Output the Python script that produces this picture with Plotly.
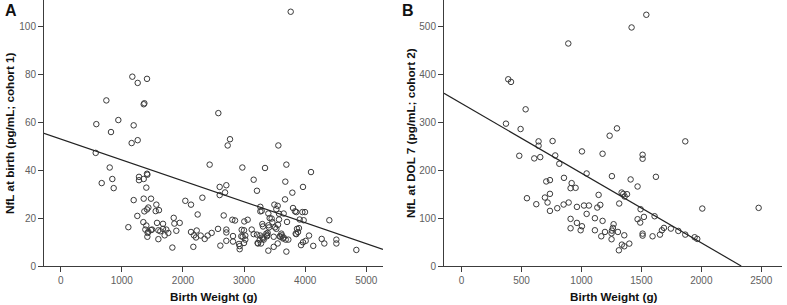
import plotly.graph_objects as go

# ---------------- Panel A data (cohort 1) ----------------
a_bw = [3763, 1172, 1412, 1260, 747, 1369, 1358, 583, 943, 1194, 823, 1161, 1260, 573, 802,
        845, 867, 671, 1281, 1281, 1358, 1412, 1418, 1401, 1194, 1358, 1478, 1107, 1254, 1352,
        1369, 1412, 1434, 1401, 1385, 1423, 1418, 1494, 1565, 1608, 1554, 1576, 1598, 1598, 1674,
        1674, 1728, 1701, 1761, 1849, 1860, 1947, 1892, 1827, 2039, 2132, 2241, 2132, 2170, 2225,
        2214, 2318, 2290, 2356, 2405, 2470, 2437, 2579, 2601, 2601, 2574, 2612, 2710, 2689, 2732,
        2770, 2667, 2710, 2710, 2710, 2808, 2852, 2819, 2917, 2928, 2972, 2961, 3004, 3059, 2999,
        2977, 3020, 2999, 3157, 3211, 3125, 3157, 3211, 3222, 3266, 3288, 3266, 3343, 3299, 3266,
        3299, 3321, 3277, 3364, 3386, 3397, 3408, 3419, 3397, 3463, 3485, 3485, 3496, 3506, 3528,
        3550, 3561, 3572, 3572, 3594, 3550, 3616, 3648, 3670, 3675, 3692, 3703, 3681, 3724, 3692,
        3648, 3790, 3801, 3834, 3855, 3845, 3866, 3910, 3954, 3975, 3997, 3964, 4095, 3932, 3964,
        4008, 4063, 4132, 4270, 4313, 4395, 4510, 4510, 4837, 3310, 3375, 3255, 3228, 3637, 3583,
        3610, 3855, 3883, 3528, 2955, 3020, 2819, 2928, 3402, 3451, 3380, 3555, 3898, 1434, 1478,
        1630, 2180, 3310]
a_nfl = [106.1, 79.0, 78.1, 76.4, 69.1, 67.9, 67.5, 59.2, 60.9, 58.7, 55.9, 51.3, 52.5, 47.2, 41.1,
         36.3, 32.5, 34.6, 37.2, 35.8, 36.3, 38.5, 38.1, 32.7, 27.5, 28.1, 28.1, 16.2, 20.9, 18.3,
         22.8, 23.6, 24.4, 16.9, 15.2, 13.8, 12.2, 15.2, 25.6, 23.3, 22.9, 18.0, 14.9, 11.2, 17.6,
         15.5, 15.2, 12.8, 13.8, 20.1, 17.7, 18.0, 14.7, 7.7, 27.2, 25.6, 21.5, 14.2, 8.0, 14.8,
         11.9, 28.5, 12.7, 11.3, 12.7, 13.8, 42.3, 63.8, 33.0, 29.6, 15.5, 8.5, 33.7, 30.7, 50.3,
         52.9, 21.1, 15.2, 14.0, 10.5, 19.3, 19.0, 10.2, 9.2, 7.0, 41.1, 15.1, 18.6, 19.3, 14.9,
         12.2, 12.7, 9.6, 36.0, 31.4, 15.2, 13.3, 13.1, 9.6, 24.7, 23.0, 22.8, 40.9, 17.5, 12.7,
         11.9, 11.0, 9.4, 13.5, 13.8, 6.4, 16.1, 20.0, 21.9, 18.3, 12.2, 8.0, 25.6, 16.1, 23.7,
         25.1, 50.3, 21.8, 19.4, 12.2, 9.4, 12.8, 21.9, 27.8, 35.2, 42.3, 18.4, 11.0, 11.0, 6.0,
         11.9, 30.6, 24.2, 22.8, 22.5, 13.5, 15.5, 19.4, 22.5, 19.1, 22.5, 33.0, 39.2, 8.7, 9.9,
         10.5, 12.7, 8.4, 11.3, 9.4, 19.1, 11.0, 9.4, 6.7, 11.5, 12.4, 10.8, 9.4, 11.5, 12.4,
         13.5, 13.3, 14.2, 15.5, 12.4, 11.0, 12.5, 8.3, 17.0, 19.8, 12.9, 17.2, 15.8, 14.3, 15.0,
         14.5, 12.8, 16.5]
a_fit_intercept = 53.0
a_fit_slope = -0.00873
a_xrange = [-273, 5273]
a_yrange = [0, 111]
a_xticks = [0, 1000, 2000, 3000, 4000, 5000]
a_yticks = [0, 20, 40, 60, 80, 100]

# ---------------- Panel B data (cohort 2) ----------------
b_bw = [1541, 1418, 890, 389, 412, 534, 370, 492, 1296, 1235, 1866, 642, 642, 759, 1004,
        1176, 1510, 1510, 481, 606, 656, 781, 815, 1043, 1254, 1621, 1410, 1468, 854, 706,
        737, 918, 909, 951, 1335, 1349, 1380, 1360, 1143, 545, 695, 737, 623, 717, 737,
        798, 851, 893, 962, 1021, 1062, 1132, 1157, 1315, 1493, 2008, 2478, 1043, 909, 909,
        962, 993, 1004, 1112, 1176, 1112, 1165, 1196, 1251, 1262, 1268, 1254, 1251, 1304, 1312,
        1337, 1357, 1357, 1399, 1468, 1490, 1510, 1510, 1521, 1610, 1593, 1655, 1671, 1688, 1746,
        1808, 1866, 1944, 1966]
b_nfl = [525.1, 498.6, 465.1, 390.3, 384.8, 327.5, 297.5, 286.3, 287.7, 272.3, 260.5, 260.5, 251.4, 261.2, 239.5,
         234.6, 232.5, 224.2, 230.4, 224.9, 227.6, 231.1, 213.7, 193.4, 187.8, 186.4, 180.9, 166.2, 184.3, 176.7,
         179.5, 173.2, 162.7, 163.4, 153.6, 150.8, 150.1, 145.2, 148.7, 141.7, 143.1, 150.8, 129.2, 132.7, 115.2,
         120.8, 128.5, 132.7, 123.6, 126.4, 126.4, 122.2, 127.8, 130.6, 118.7, 120.1, 121.5, 108.9, 98.5, 78.9,
         90.1, 74.7, 83.1, 99.9, 94.3, 74.7, 62.1, 71.2, 68.4, 79.6, 87.3, 74.0, 55.9, 71.2, 32.8,
         44.7, 41.2, 64.2, 46.8, 97.8, 90.8, 67.7, 63.5, 102.6, 104.0, 62.1, 65.6, 74.7, 79.6, 78.2,
         73.3, 65.6, 60.1, 56.6]
b_fit_intercept = 339.6
b_fit_slope = -0.1456
b_xrange = [-147, 2673]
b_yrange = [0, 556]
b_xticks = [0, 500, 1000, 1500, 2000, 2500]
b_yticks = [0, 100, 200, 300, 400, 500]

x_title = "Birth Weight (g)"
a_ytitle = "NfL at birth (pg/mL; cohort 1)"
b_ytitle = "NfL at DOL 7 (pg/mL; cohort 2)"

FONT = "Liberation Sans, Arial, sans-serif"
AX = "#3c3c3c"
TICKC = "#606060"

fig = go.Figure()

marker = dict(symbol="circle-open", size=5.5, color="#3a3a3a", line=dict(width=1, color="#3a3a3a"))

fig.add_trace(go.Scatter(x=a_bw, y=a_nfl, mode="markers", marker=marker,
                         xaxis="x", yaxis="y", showlegend=False, cliponaxis=False))
ax_line = [a_xrange[0], a_xrange[1]]
fig.add_trace(go.Scatter(x=ax_line, y=[a_fit_intercept + a_fit_slope * v for v in ax_line],
                         mode="lines", line=dict(color="#222222", width=1.2),
                         xaxis="x", yaxis="y", showlegend=False))

fig.add_trace(go.Scatter(x=b_bw, y=b_nfl, mode="markers", marker=marker,
                         xaxis="x2", yaxis="y2", showlegend=False, cliponaxis=False))
bx_end = -b_fit_intercept / b_fit_slope
bx_line = [b_xrange[0], bx_end]
fig.add_trace(go.Scatter(x=bx_line, y=[b_fit_intercept + b_fit_slope * v for v in bx_line],
                         mode="lines", line=dict(color="#222222", width=1.2),
                         xaxis="x2", yaxis="y2", showlegend=False))

W, H = 787, 305
common_axis = dict(showline=True, linecolor=AX, linewidth=1, ticks="outside", ticklen=5,
                   tickcolor=AX, tickwidth=1, showgrid=False, zeroline=False,
                   tickfont=dict(family=FONT, size=10, color=TICKC), automargin=False)

fig.update_layout(
    width=W, height=H,
    margin=dict(l=0, r=0, t=0, b=39),
    plot_bgcolor="white", paper_bgcolor="white",
    xaxis=dict(domain=[44 / W, 383 / W], range=a_xrange, tickvals=a_xticks, anchor="y", **common_axis),
    yaxis=dict(domain=[0, 1], range=a_yrange, tickvals=a_yticks, anchor="x", **common_axis),
    xaxis2=dict(domain=[444 / W, 782 / W], range=b_xrange, tickvals=b_xticks, anchor="y2", **common_axis),
    yaxis2=dict(domain=[0, 1], range=b_yrange, tickvals=b_yticks, anchor="x2", **common_axis),
)

title_font = dict(family=FONT, size=11.7, color="#111111")
plot_h = H - 39
annots = [
    dict(text="<b>A</b>", x=3, y=H - 11, xanchor="left", yanchor="middle",
         font=dict(family=FONT, size=16, color="#111111")),
    dict(text="<b>B</b>", x=400, y=H - 11, xanchor="left", yanchor="middle",
         font=dict(family=FONT, size=16, color="#111111")),
    dict(text="<b>" + x_title + "</b>", x=214, y=H - 296, xanchor="center",
         yanchor="middle", font=title_font),
    dict(text="<b>" + x_title + "</b>", x=614, y=H - 296, xanchor="center",
         yanchor="middle", font=title_font),
    dict(text="<b>" + a_ytitle + "</b>", x=9, y=H - 133, textangle=-90, xanchor="center",
         yanchor="middle", font=title_font),
    dict(text="<b>" + b_ytitle + "</b>", x=410, y=H - 133, textangle=-90, xanchor="center",
         yanchor="middle", font=title_font),
]
# convert pixel positions to paper coordinates (paper spans the plotting rectangle)
for a in annots:
    a["xref"] = "paper"
    a["yref"] = "paper"
    a["x"] = a["x"] / W
    a["y"] = (a["y"] - 39) / plot_h
    a["showarrow"] = False
fig.update_layout(annotations=annots)

fig.write_html("out.html", config={"displayModeBar": False},
               post_script="document.body.style.margin='0px';")
